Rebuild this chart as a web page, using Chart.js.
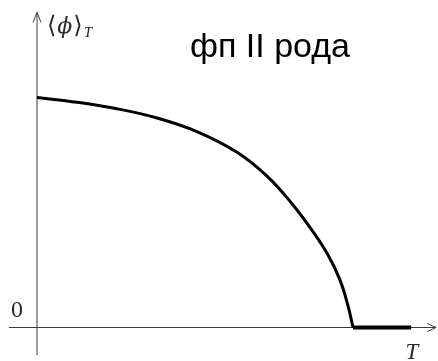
<!DOCTYPE html>
<html>
<head>
<meta charset="utf-8">
<script src="https://cdn.jsdelivr.net/npm/chart.js@4/dist/chart.umd.min.js"></script>
<style>
  html, body { margin: 0; padding: 0; background: #fff; }
  #wrap { width: 438px; height: 361px; }
</style>
</head>
<body>
<div id="wrap"><canvas id="c" width="438" height="361"></canvas></div>
<script>
// Order parameter <phi>_T versus temperature T (second-order transition), T in units of Tc
const temperature = [0, 0.127, 0.253, 0.38, 0.506, 0.633, 0.728, 0.807, 0.87, 0.921, 0.959, 0.984, 1.0];
const orderParam  = [1.0, 0.979, 0.951, 0.911, 0.852, 0.762, 0.658, 0.538, 0.423, 0.315, 0.206, 0.095, 0];
// Above Tc the order parameter stays at zero
const highTemperature = [1.0, 1.184];
const highOrderParam  = [0, 0];

const titleText = 'фп II рода';
const yLabelOpen = '⟨';
const yLabelSymbol = 'ϕ';
const yLabelClose = '⟩';
const ySubscript = 'T';
const xLabel = 'T';
const zeroLabel = '0';

// Plot window and axis extents (data units)
const xRange = [-0.1171, 1.269];
const yRange = [-0.1457, 1.4239];
const xAxisSpan = [-0.089, 1.263];
const yAxisSpan = [-0.12, 1.37];

const toPoints = (xs, ys) => xs.map((x, i) => ({ x, y: ys[i] }));

const axesPlugin = {
  id: 'axesWithArrows',
  beforeDatasetsDraw(chart) {
    const { ctx, scales: { x, y } } = chart;
    const x0 = x.getPixelForValue(0);
    const y0 = y.getPixelForValue(0);
    ctx.save();
    ctx.strokeStyle = '#3a3a3a';
    ctx.lineWidth = 1;
    // horizontal axis
    const xa = x.getPixelForValue(xAxisSpan[0]);
    const xb = x.getPixelForValue(xAxisSpan[1]);
    ctx.beginPath();
    ctx.moveTo(xa, y0); ctx.lineTo(xb, y0);
    ctx.moveTo(xb - 9, y0 - 4); ctx.lineTo(xb, y0); ctx.lineTo(xb - 9, y0 + 4);
    ctx.stroke();
    // vertical axis
    const ya = y.getPixelForValue(yAxisSpan[0]);
    const yb = y.getPixelForValue(yAxisSpan[1]);
    ctx.beginPath();
    ctx.moveTo(x0, ya); ctx.lineTo(x0, yb);
    ctx.moveTo(x0 - 4, yb + 10); ctx.lineTo(x0, yb); ctx.lineTo(x0 + 4, yb + 10);
    ctx.stroke();
    ctx.restore();
  },
  afterDraw(chart) {
    const { ctx, scales: { x, y } } = chart;
    const x0 = x.getPixelForValue(0);
    const y0 = y.getPixelForValue(0);
    ctx.save();
    ctx.fillStyle = '#2a2a2a';
    ctx.textBaseline = 'alphabetic';
    // zero tick label
    ctx.font = '24px "Liberation Serif", "DejaVu Serif", serif';
    ctx.textAlign = 'center';
    ctx.fillText(zeroLabel, x0 - 20, y0 - 10.5);
    // T axis label
    ctx.font = 'italic 23px "Liberation Serif", "DejaVu Serif", serif';
    ctx.fillText(xLabel, x0 + 375, y0 + 32);
    // <phi>_T axis label
    ctx.textAlign = 'left';
    let cx = x0 + 10;
    ctx.font = '24px "DejaVu Serif", "Liberation Serif", serif';
    ctx.fillText(yLabelOpen, cx, 33);
    cx += ctx.measureText(yLabelOpen).width + 1;
    ctx.font = 'italic 22px "DejaVu Serif", "Liberation Serif", serif';
    ctx.fillText(yLabelSymbol, cx, 33);
    cx += ctx.measureText(yLabelSymbol).width + 1;
    ctx.font = '24px "DejaVu Serif", "Liberation Serif", serif';
    ctx.fillText(yLabelClose, cx, 33);
    cx += ctx.measureText(yLabelClose).width;
    ctx.font = 'italic 15px "Liberation Serif", "DejaVu Serif", serif';
    ctx.fillText(ySubscript, cx + 1, 37);
    // title
    ctx.fillStyle = '#000';
    ctx.font = '34px "Liberation Sans", Arial, sans-serif';
    ctx.fillText(titleText, 190, 57);
    ctx.restore();
  }
};

new Chart(document.getElementById('c'), {
  type: 'line',
  data: {
    datasets: [
      {
        data: toPoints(temperature, orderParam),
        borderColor: '#000',
        borderWidth: 3,
        pointRadius: 0,
        tension: 0.4,
        fill: false
      },
      {
        data: toPoints(highTemperature, highOrderParam),
        borderColor: '#000',
        borderWidth: 4,
        pointRadius: 0,
        fill: false
      }
    ]
  },
  options: {
    responsive: false,
    animation: false,
    layout: { padding: 0 },
    plugins: { legend: { display: false }, tooltip: { enabled: false }, title: { display: false } },
    scales: {
      x: { type: 'linear', min: xRange[0], max: xRange[1], display: false },
      y: { type: 'linear', min: yRange[0], max: yRange[1], display: false }
    }
  },
  plugins: [axesPlugin]
});
</script>
</body>
</html>
